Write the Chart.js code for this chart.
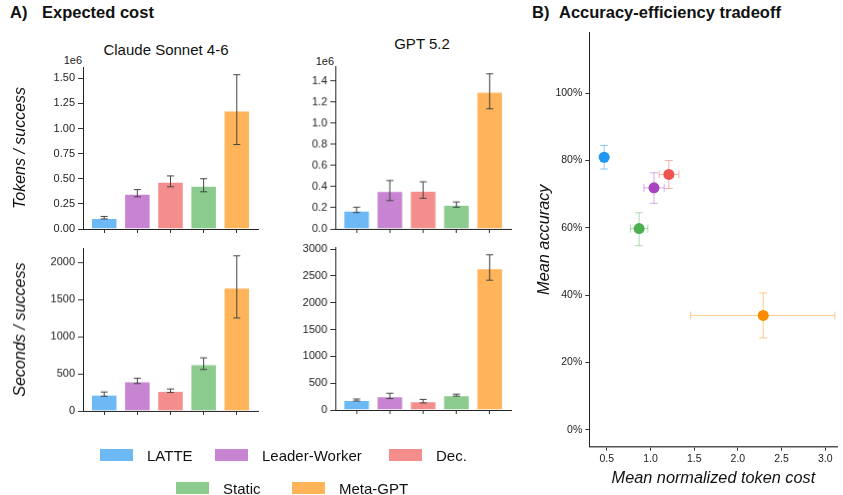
<!DOCTYPE html>
<html>
<head>
<meta charset="utf-8">
<script src="https://cdn.jsdelivr.net/npm/chart.js@4.4.1/dist/chart.umd.min.js"></script>
<style>
  body { margin:0; width:843px; height:495px; position:relative; overflow:hidden; background:#fff;
         font-family:"Liberation Sans", Arial, sans-serif; color:#111; }
  canvas { position:absolute; }
  .t { position:absolute; white-space:nowrap; line-height:1; }
  .big { font-size:16.5px; font-weight:bold; }
  .sub { font-size:15px; transform:translateX(-50%); }
  .off { font-size:11px; color:#222; transform:translateX(-100%); }
  .lg { position:absolute; display:flex; align-items:center; font-size:15px; }
  .lg i { display:inline-block; width:33px; height:12px; margin-right:14px; }
</style>
</head>
<body>

<div class="t big" style="left:10px;top:4px">A)</div>
<div class="t big" style="left:42px;top:4px">Expected cost</div>
<div class="t big" style="left:532px;top:4px">B)</div>
<div class="t big" style="left:559px;top:4px">Accuracy-efficiency tradeoff</div>
<div class="t sub" style="left:166px;top:42px">Claude Sonnet 4-6</div>
<div class="t sub" style="left:422px;top:36px">GPT 5.2</div>
<div class="t off" style="left:82px;top:55px">1e6</div>
<div class="t off" style="left:334px;top:56px">1e6</div>

<script>
// ---- data ----
const methods = ['LATTE', 'Leader-Worker', 'Dec.', 'Static', 'Meta-GPT'];

// A) tokens per success
const claudeTokens   = [110000, 350000, 470000, 430000, 1180000];
const claudeTokensLo = [100000, 320000, 420000, 370000, 840000];
const claudeTokensHi = [125000, 392000, 528000, 500000, 1535000];
const gptTokens      = [173000, 358000, 360000, 228000, 1295000];
const gptTokensLo    = [155000, 268000, 290000, 205000, 1135000];
const gptTokensHi    = [205000, 457000, 445000, 255000, 1465000];

// A) seconds per success
const claudeSecs   = [221, 401, 270, 631, 1662];
const claudeSecsLo = [198, 369, 250, 559, 1252];
const claudeSecsHi = [255, 440, 295, 716, 2090];
const gptSecs      = [185, 258, 162, 275, 2644];
const gptSecsLo    = [168, 212, 132, 258, 2420];
const gptSecsHi    = [205, 312, 198, 295, 2894];

// B) accuracy vs normalized token cost
const costX   = [0.47, 1.04, 1.21, 0.87, 2.29];
const costXLo = [0.47, 0.925, 1.10, 0.77, 1.46];
const costXHi = [0.47, 1.157, 1.325, 0.97, 3.11];
const acc     = [81.0, 71.9, 75.9, 59.8, 34.0];
const accLo   = [77.5, 67.3, 71.7, 54.7, 27.3];
const accHi   = [84.5, 76.4, 80.0, 64.5, 40.7];

const barColors = ['#6cb9f5', '#c785d1', '#f48e8d', '#8bcb8d', '#ffb45a'];
const dotColors = ['#2196f3', '#a845be', '#ef5350', '#4caf50', '#fb8c00'];
const errColors = ['rgba(33,150,243,0.5)', 'rgba(168,69,190,0.45)', 'rgba(239,83,80,0.45)',
                   'rgba(76,175,80,0.45)', 'rgba(251,140,0,0.45)'];

const FONT = '"Liberation Sans", Arial, sans-serif';
Chart.defaults.font.family = FONT;
Chart.defaults.color = '#222';

// ticks every `step` inside the axis range (like matplotlib's locator)
const stepTicks = step => s => {
  const t = [];
  for (let v = Math.ceil(s.min / step - 1e-9) * step; v <= s.max + 1e-9; v += step) {
    t.push({value: +v.toFixed(6)});
  }
  s.ticks = t;
};

// error bars drawn with the chart's own scales
const errorBars = {
  id: 'errorBars',
  draw(chart, o) {
    const {ctx, scales} = chart;
    const pts = chart.getDatasetMeta(0).data;
    ctx.save();
    ctx.lineWidth = 1;
    pts.forEach((p, i) => {
      ctx.strokeStyle = Array.isArray(o.color) ? o.color[i] : o.color;
      ctx.beginPath();
      if (o.ylo) {
        const y1 = scales.y.getPixelForValue(o.ylo[i]), y2 = scales.y.getPixelForValue(o.yhi[i]);
        ctx.moveTo(p.x, y1); ctx.lineTo(p.x, y2);
        ctx.moveTo(p.x - o.cap, y1); ctx.lineTo(p.x + o.cap, y1);
        ctx.moveTo(p.x - o.cap, y2); ctx.lineTo(p.x + o.cap, y2);
      }
      if (o.xlo && o.xlo[i] !== o.xhi[i]) {
        const x1 = scales.x.getPixelForValue(o.xlo[i]), x2 = scales.x.getPixelForValue(o.xhi[i]);
        ctx.moveTo(x1, p.y); ctx.lineTo(x2, p.y);
        ctx.moveTo(x1, p.y - o.cap); ctx.lineTo(x1, p.y + o.cap);
        ctx.moveTo(x2, p.y - o.cap); ctx.lineTo(x2, p.y + o.cap);
      }
      ctx.stroke();
    });
    ctx.restore();
  },
  beforeDatasetsDraw(chart, args, o) { if (o.under) this.draw(chart, o); },
  afterDatasetsDraw(chart, args, o) { if (!o.under) this.draw(chart, o); }
};
Chart.register(errorBars);

function makeCanvas(left, top, w, h) {
  const c = document.createElement('canvas');
  c.width = w; c.height = h;
  c.style.left = left + 'px'; c.style.top = top + 'px';
  c.style.width = w + 'px'; c.style.height = h + 'px';
  document.body.appendChild(c);
  return c;
}

// one bar panel; area = wanted plot area in page pixels
function barPanel(area, canvasLeft, vals, lo, hi, fmt, step, ylabel) {
  const top = area.t - 12, bottomH = 16;
  const w = area.r + 10 - canvasLeft, h = area.b + bottomH - top;
  const c = makeCanvas(canvasLeft, top, w, h);
  new Chart(c, {
    type: 'bar',
    data: {
      datasets: [{
        data: vals.map((v, i) => ({x: i, y: v})),
        backgroundColor: barColors,
        borderColor: 'rgba(255,255,255,0.75)',
        borderWidth: 1,
        barPercentage: 0.8,
        categoryPercentage: 1
      }]
    },
    options: {
      responsive: false, animation: false, devicePixelRatio: 1,
      layout: {padding: {top: 12, right: 10, left: 0, bottom: 0}},
      plugins: {
        legend: {display: false}, tooltip: {enabled: false},
        errorBars: {ylo: lo, yhi: hi, color: '#444', cap: 3.5}
      },
      scales: {
        x: {
          type: 'linear', offset: false, min: -0.64, max: 4.64,
          ticks: {display: false},
          afterBuildTicks: stepTicks(1),
          grid: {offset: false, drawOnChartArea: false, drawTicks: true, tickLength: 4, color: '#333'},
          border: {color: '#222', width: 1},
          afterFit: s => { s.height = bottomH; }
        },
        y: {
          min: 0, max: 1.05 * Math.max(...hi),
          afterBuildTicks: stepTicks(step),
          ticks: {padding: 3, font: {size: 11}, callback: fmt},
          grid: {drawOnChartArea: false, drawTicks: true, tickLength: 5, color: '#333'},
          border: {color: '#222', width: 1},
          title: ylabel ? {display: true, text: ylabel, font: {size: 16, style: 'italic'},
                           color: '#111', padding: {top: 11, bottom: 0}} : {display: false},
          afterFit: s => { s.width = area.l - canvasLeft; }
        }
      }
    }
  });
}

barPanel({l: 83, t: 67, r: 258, b: 229}, 0, claudeTokens, claudeTokensLo, claudeTokensHi,
         v => (v / 1e6).toFixed(2), 250000, 'Tokens / success');
barPanel({l: 335, t: 66, r: 510.7, b: 228.7}, 262, gptTokens, gptTokensLo, gptTokensHi,
         v => (v / 1e6).toFixed(1), 200000, null);
barPanel({l: 83, t: 248.3, r: 258, b: 410.7}, 0, claudeSecs, claudeSecsLo, claudeSecsHi,
         v => String(v), 500, 'Seconds / success');
barPanel({l: 335, t: 247.3, r: 510.7, b: 410.3}, 262, gptSecs, gptSecsLo, gptSecsHi,
         v => String(v), 500, null);

// B) scatter
(function () {
  const area = {l: 589.3, t: 32.7, r: 843, b: 446.7};
  const left = 530, top = 20;
  const c = makeCanvas(left, top, 843 - left, 495 - top);
  new Chart(c, {
    type: 'scatter',
    data: {
      datasets: [{
        data: costX.map((x, i) => ({x: x, y: acc[i]})),
        pointBackgroundColor: dotColors,
        pointBorderColor: dotColors,
        pointRadius: 5.5,
        pointBorderWidth: 0
      }]
    },
    options: {
      responsive: false, animation: false, devicePixelRatio: 1,
      layout: {padding: {top: area.t - top, right: 0, left: 0, bottom: 0}},
      plugins: {
        legend: {display: false}, tooltip: {enabled: false},
        errorBars: {under: true, xlo: costXLo, xhi: costXHi, ylo: accLo, yhi: accHi,
                    color: errColors, cap: 4}
      },
      scales: {
        x: {
          min: 0.3, max: 3.14,
          afterBuildTicks: stepTicks(0.5),
          ticks: {padding: 2, font: {size: 10.5}, callback: v => v.toFixed(1)},
          grid: {drawOnChartArea: false, drawTicks: true, tickLength: 4, color: '#333'},
          border: {color: '#555', width: 1.5},
          title: {display: true, text: 'Mean normalized token cost',
                  font: {size: 16.3, style: 'italic'}, color: '#111', padding: {top: 0, bottom: 7}},
          afterFit: s => { s.height = 495 - area.b; }
        },
        y: {
          min: -5, max: 118,
          afterBuildTicks: stepTicks(20),
          ticks: {padding: 3, font: {size: 10.5}, callback: v => v + '%'},
          grid: {drawOnChartArea: false, drawTicks: true, tickLength: 4, color: '#333'},
          border: {color: '#222', width: 1},
          title: {display: true, text: 'Mean accuracy', font: {size: 16.3, style: 'italic'},
                  color: '#111', padding: {top: 5, bottom: 0}},
          afterFit: s => { s.width = area.l - left; }
        }
      }
    }
  });
})();

// legend (two rows like the figure)
const legendSpots = [[100, 449], [215, 449], [389, 449], [176, 482], [292, 482]];
methods.forEach((m, i) => {
  const d = document.createElement('div');
  d.className = 'lg';
  d.style.left = legendSpots[i][0] + 'px';
  d.style.top = (legendSpots[i][1] - 3) + 'px';
  d.style.height = '18px';
  d.innerHTML = '<i style="background:' + barColors[i] + '"></i><span>' + m + '</span>';
  document.body.appendChild(d);
});
</script>
</body>
</html>
